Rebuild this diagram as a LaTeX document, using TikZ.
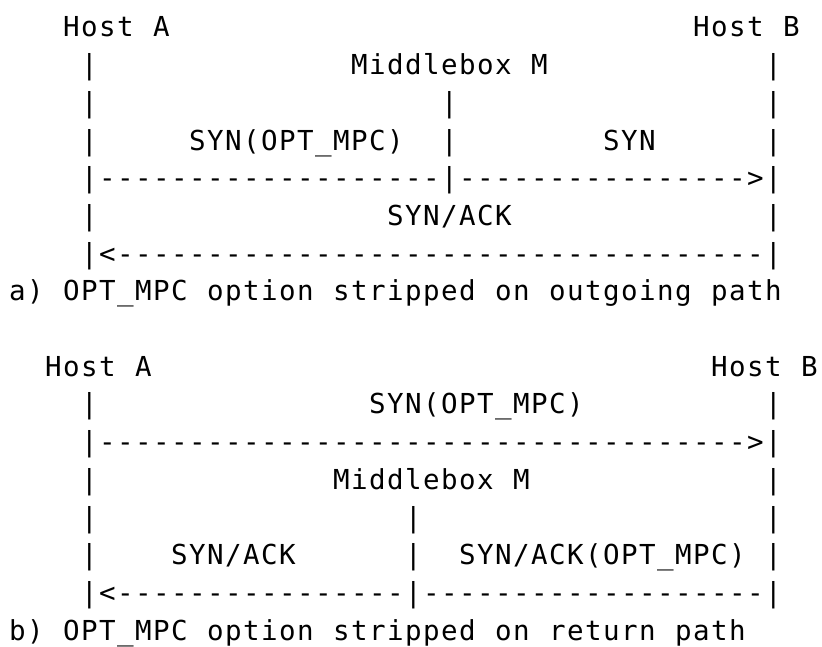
\documentclass[tikz,border=0pt]{standalone}
\usepackage{fontspec}
\setmonofont{DejaVu Sans Mono}
\ExplSyntaxOn
\cs_new:Npn \dsh #1 {\prg_replicate:nn{#1}{-}}
\cs_generate_variant:Nn \str_map_inline:nn {e}
\NewDocumentCommand\monocells{m}{\str_map_inline:en{#1}{\makebox[18pt]{##1}}}
\ExplSyntaxOff
\newcommand\asciiseg[4]{\node[asc] (#1) at ({8.4+18*#2},{610-37.7*#3}) {\monocells{#4}};}
\begin{document}
\begin{tikzpicture}[x=1pt,y=1pt,
  asc/.style={anchor=base west,inner sep=0pt,outer sep=0pt,text=black,
    font=\ttfamily\fontsize{27.5}{33}\selectfont}]
\useasboundingbox (0,0) rectangle (822,647);
% ---- a) ----
\asciiseg{ha}{3}{0}{Host A}
\asciiseg{hb}{38}{0}{Host B}
\asciiseg{a1l}{4}{1}{|}
\asciiseg{mba}{19}{1}{Middlebox M}
\asciiseg{a1r}{42}{1}{|}
\asciiseg{a2l}{4}{2}{|}
\asciiseg{a2m}{24}{2}{|}
\asciiseg{a2r}{42}{2}{|}
\asciiseg{a3l}{4}{3}{|}
\asciiseg{synopt}{10}{3}{SYN(OPT_MPC)}
\asciiseg{a3m}{24}{3}{|}
\asciiseg{syn}{33}{3}{SYN}
\asciiseg{a3r}{42}{3}{|}
\asciiseg{a4}{4}{4}{|\dsh{19}|\dsh{16}>|}
\asciiseg{a5l}{4}{5}{|}
\asciiseg{synack}{21}{5}{SYN/ACK}
\asciiseg{a5r}{42}{5}{|}
\asciiseg{a6}{4}{6}{|<\dsh{36}|}
\asciiseg{capa}{0}{7}{a) OPT_MPC option stripped on outgoing path}
% ---- b) ----
\asciiseg{hab}{2}{9}{Host A}
\asciiseg{hbb}{39}{9}{Host B}
\asciiseg{b10l}{4}{10}{|}
\asciiseg{synoptb}{20}{10}{SYN(OPT_MPC)}
\asciiseg{b10r}{42}{10}{|}
\asciiseg{b11}{4}{11}{|\dsh{36}>|}
\asciiseg{b12l}{4}{12}{|}
\asciiseg{mbb}{18}{12}{Middlebox M}
\asciiseg{b12r}{42}{12}{|}
\asciiseg{b13l}{4}{13}{|}
\asciiseg{b13m}{22}{13}{|}
\asciiseg{b13r}{42}{13}{|}
\asciiseg{b14l}{4}{14}{|}
\asciiseg{synackb}{9}{14}{SYN/ACK}
\asciiseg{b14m}{22}{14}{|}
\asciiseg{synackopt}{25}{14}{SYN/ACK(OPT_MPC)}
\asciiseg{b14r}{42}{14}{|}
\asciiseg{b15}{4}{15}{|<\dsh{16}|\dsh{19}|}
\asciiseg{capb}{0}{16}{b) OPT_MPC option stripped on return path}
\end{tikzpicture}
\end{document}
